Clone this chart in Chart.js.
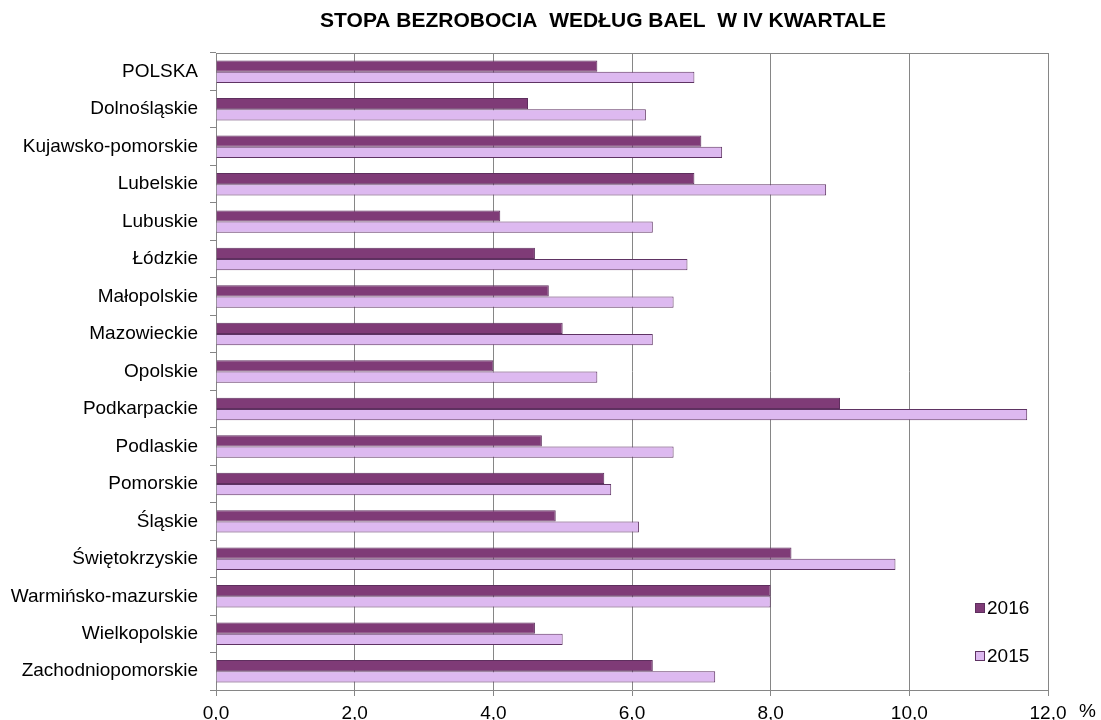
<!DOCTYPE html>
<html>
<head>
<meta charset="utf-8">
<script src="https://cdn.jsdelivr.net/npm/chart.js@4"></script>
<style>
  body { margin: 0; background: #fff; }
</style>
</head>
<body>
<canvas id="graphic" width="1101" height="720"></canvas>
<script>
const regions = ['POLSKA', 'Dolnośląskie', 'Kujawsko-pomorskie', 'Lubelskie', 'Lubuskie', 'Łódzkie',
  'Małopolskie', 'Mazowieckie', 'Opolskie', 'Podkarpackie', 'Podlaskie', 'Pomorskie', 'Śląskie',
  'Świętokrzyskie', 'Warmińsko-mazurskie', 'Wielkopolskie', 'Zachodniopomorskie'];
const values2016 = [5.5, 4.5, 7.0, 6.9, 4.1, 4.6, 4.8, 5.0, 4.0, 9.0, 4.7, 5.6, 4.9, 8.3, 8.0, 4.6, 6.3];
const values2015 = [6.9, 6.2, 7.3, 8.8, 6.3, 6.8, 6.6, 6.3, 5.5, 11.7, 6.6, 5.7, 6.1, 9.8, 8.0, 5.0, 7.2];
const xTicks = [0, 2, 4, 6, 8, 10, 12];
const chartTitle = 'STOPA BEZROBOCIA  WEDŁUG BAEL  W IV KWARTALE';

const gridGray = '#868686';
const fontFamily = '"Liberation Sans", Arial, sans-serif';

/* tytul, ramka obszaru wykresu, legenda w srodku i znak % */
const extras = {
  id: 'extras',
  afterDraw(chart) {
    const ctx = chart.ctx;
    const area = chart.chartArea;
    ctx.save();
    ctx.strokeStyle = gridGray;
    ctx.lineWidth = 1;
    ctx.beginPath();
    ctx.moveTo(area.left, area.top + 0.5);
    ctx.lineTo(area.right + 0.5, area.top + 0.5);
    ctx.lineTo(area.right + 0.5, area.bottom);
    ctx.stroke();

    ctx.fillStyle = '#000';
    ctx.textBaseline = 'middle';
    ctx.textAlign = 'center';
    ctx.font = 'bold 21px ' + fontFamily;
    ctx.fillText(chartTitle, 603, 21);

    ctx.font = '19px ' + fontFamily;
    ctx.textAlign = 'left';
    ctx.fillText('%', 1079, 712);

    const items = [chart.data.datasets[0], chart.data.datasets[1]];
    items.forEach((ds, i) => {
      const y = 608 + i * 48;
      ctx.fillStyle = ds.backgroundColor;
      ctx.strokeStyle = ds.borderColor;
      ctx.fillRect(975, y - 5, 10, 10);
      ctx.strokeRect(975.5, y - 4.5, 9, 9);
      ctx.fillStyle = '#000';
      ctx.fillText(ds.label, 987, y + 1);
    });
    ctx.restore();
  }
};

const data = {
  labels: regions,
  datasets: [{
    label: '2016',
    data: values2016,
    backgroundColor: '#7F3B77',
    borderColor: '#5E2F5E',
    borderWidth: 1,
    categoryPercentage: 0.6,
    barPercentage: 1.0
  }, {
    label: '2015',
    data: values2015,
    backgroundColor: '#DDB9F0',
    borderColor: '#5E3363',
    borderWidth: 1,
    categoryPercentage: 0.6,
    barPercentage: 1.0
  }]
};

const config = {
  type: 'bar',
  data: data,
  options: {
    indexAxis: 'y',
    responsive: false,
    animation: false,
    layout: { padding: { left: 0, right: 53, top: 53, bottom: 0 } },
    plugins: {
      legend: { display: false },
      tooltip: { enabled: false },
      title: { display: false }
    },
    scales: {
      x: {
        min: 0,
        max: 12,
        afterBuildTicks: axis => { axis.ticks = xTicks.map(v => ({ value: v })); },
        afterFit: axis => { axis.height = 30; },
        ticks: {
          color: '#000',
          padding: 6,
          font: { family: fontFamily, size: 19 },
          callback: v => v.toFixed(1).replace('.', ',')
        },
        grid: { color: gridGray, tickLength: 6 },
        border: { color: gridGray }
      },
      y: {
        afterFit: axis => { axis.width = 216; },
        ticks: {
          color: '#000',
          padding: 12,
          font: { family: fontFamily, size: 19 }
        },
        grid: { drawOnChartArea: false, color: gridGray, tickLength: 6 },
        border: { color: gridGray }
      }
    }
  },
  plugins: [extras]
};

new Chart(document.querySelector('#graphic'), config);
</script>
</body>
</html>
